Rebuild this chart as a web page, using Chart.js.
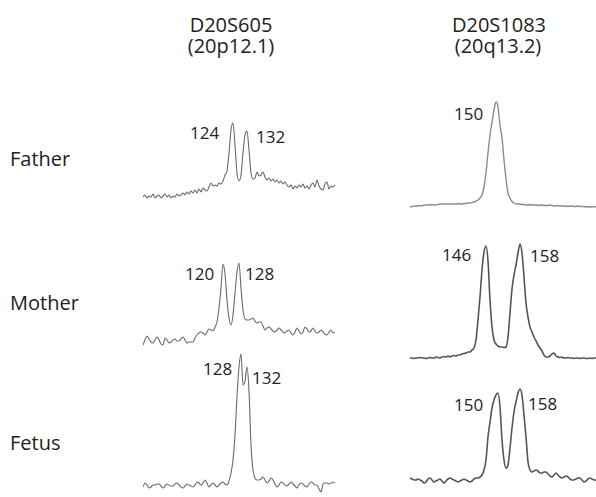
<!DOCTYPE html>
<html>
<head>
<meta charset="utf-8">
<script src="https://cdn.jsdelivr.net/npm/chart.js@4"></script>
<style>
  body { margin: 0; background: #fff; width: 596px; height: 497px; position: relative; overflow: hidden; font-family: "Open Sans", sans-serif; color: #222; }
  canvas { position: absolute; }
  .txt { position: absolute; white-space: nowrap; line-height: 1; }
  .title { font-size: 20px; text-align: center; width: 140px; }
  .row { font-size: 20px; }
  .peak { font-size: 17px; }
</style>
</head>
<body>
<div class="txt title" style="left:161px; top:15px;">D20S605</div>
<div class="txt title" style="left:161px; top:36px;">(20p12.1)</div>
<div class="txt title" style="left:429px; top:15px;">D20S1083</div>
<div class="txt title" style="left:428px; top:36px;">(20q13.2)</div>

<div class="txt row" style="left:10px; top:149px;">Father</div>
<div class="txt row" style="left:10px; top:293px;">Mother</div>
<div class="txt row" style="left:10px; top:433px;">Fetus</div>

<div class="txt peak" style="left:190px; top:124px;">124</div>
<div class="txt peak" style="left:256px; top:128px;">132</div>
<div class="txt peak" style="left:454px; top:105px;">150</div>
<div class="txt peak" style="left:185px; top:265px;">120</div>
<div class="txt peak" style="left:245px; top:265px;">128</div>
<div class="txt peak" style="left:442px; top:246px;">146</div>
<div class="txt peak" style="left:530px; top:247px;">158</div>
<div class="txt peak" style="left:203px; top:360px;">128</div>
<div class="txt peak" style="left:252px; top:369px;">132</div>
<div class="txt peak" style="left:454px; top:396px;">150</div>
<div class="txt peak" style="left:528px; top:395px;">158</div>

<canvas id="father-a" width="192" height="90" style="left:143px; top:115px;"></canvas>
<canvas id="father-b" width="186" height="120" style="left:410px; top:95px;"></canvas>
<canvas id="mother-a" width="192" height="95" style="left:143px; top:255px;"></canvas>
<canvas id="mother-b" width="186" height="130" style="left:410px; top:235px;"></canvas>
<canvas id="fetus-a" width="192" height="145" style="left:143px; top:350px;"></canvas>
<canvas id="fetus-b" width="186" height="110" style="left:410px; top:380px;"></canvas>

<script>
// signal heights (D20S605 on the left, D20S1083 on the right)
const fatherA = [8, 10, 7, 9, 8, 11, 7, 9, 10, 7, 9, 11, 8, 10, 7, 9, 8, 11, 9, 10,
    12, 10, 13, 11, 14, 12, 15, 12, 16, 13, 17, 15, 14, 18, 22, 19, 20, 19, 22, 21,
    24, 30, 34, 52, 75, 82, 60, 32, 24, 30, 52, 70, 74, 55, 32, 26, 27, 33, 29, 30,
    33, 28, 25, 27, 24, 26, 23, 25, 22, 24, 21, 23, 20, 18, 20, 16, 19, 17, 20, 18,
    21, 17, 19, 16, 20, 22, 18, 25, 19, 16, 15, 21, 23, 16, 19, 18, 20];

const fatherB = [8, 8.5, 9, 9, 9, 9.5, 9, 10, 10, 10, 10, 10.5, 10, 10, 10.5, 11, 11, 11, 11, 11,
    11, 11, 11, 11, 11.5, 11, 11, 11.5, 11.5, 12, 12, 12.5, 13, 14, 15, 17, 20, 28, 42, 62,
    80, 93, 105, 113, 108, 90, 77, 55, 36, 22, 17, 13.5, 12, 11, 11, 11, 10.5, 10.5, 10, 10,
    10.5, 10, 10, 10, 9.5, 10, 10, 9.5, 9.5, 9.5, 10, 9.5, 9, 9, 9.5, 9, 9, 9, 9, 8.5,
    9, 9, 8.5, 8.5, 9, 8.5, 8.5, 8.5, 8, 8.5, 8, 8, 8.5, 8];

const motherA = [5, 10, 14, 11, 8, 7, 10, 13, 10, 6, 5, 12, 10, 7, 8, 10, 11, 9, 9, 11,
    13, 10, 7, 8, 8, 8, 12, 15, 17, 18, 17, 15, 18, 21, 20, 19, 23, 28, 42, 62,
    86, 76, 50, 32, 25, 35, 57, 78, 87, 62, 40, 31, 30, 30, 31, 32, 29, 27, 28, 28,
    24, 20, 22, 23, 21, 19, 18, 20, 22, 20, 18, 17, 19, 20, 17, 15, 18, 22, 19, 16,
    18, 23, 21, 18, 19, 22, 19, 17, 18, 20, 18, 16, 15, 18, 20, 17, 18];

const motherB = [7, 7, 6.5, 7, 7, 7.5, 7, 7, 6.5, 7, 7.5, 7, 7, 8, 7.5, 7, 8, 8.5, 8, 9,
    8, 9, 9.5, 9, 10, 10, 11, 11.5, 12, 13, 13, 15, 17, 25, 45, 68, 95, 113, 119, 104,
    65, 38, 25, 21, 19, 18, 18, 17.5, 18, 28, 52, 76, 90, 100, 112, 121, 112, 88, 62, 48,
    38, 33, 28, 24, 20, 17, 14, 10, 8, 8, 9, 11, 12, 9, 8, 7.5, 8, 7, 7, 7.5,
    7, 7, 6.5, 7, 7, 6.5, 7, 7, 6.5, 6.5, 7, 6.5, 7, 7];

const fetusA = [8, 12, 10, 7, 8, 10, 10, 11, 11, 9, 7, 9, 11, 10, 9, 9, 11, 12, 10, 8,
    7, 9, 11, 10, 9, 8, 10, 13, 12, 10, 12, 15, 12, 8, 10, 12, 10, 8, 10, 12,
    13, 11, 10, 14, 22, 35, 60, 98, 128, 141, 110, 114, 128, 104, 50, 25, 17, 15, 15, 16,
    18, 15, 12, 14, 17, 15, 11, 8, 10, 13, 12, 10, 9, 11, 13, 11, 9, 7, 10, 12,
    11, 9, 8, 11, 13, 12, 10, 10, 6, 3, 11, 12, 12, 11, 12, 13, 12];

const fetusB = [12, 11, 10, 10, 11, 10, 9, 7, 8, 11, 12, 10, 8, 9, 10, 11, 9, 7, 9, 11,
    12, 11, 10, 9, 8, 9, 10, 11, 10, 9, 8, 9, 11, 12, 12, 13, 15, 20, 30, 53,
    68, 82, 90, 95, 97, 83, 50, 30, 22, 25, 42, 62, 78, 88, 97, 101, 95, 75, 53, 28,
    20, 18, 19, 20, 19, 17, 17, 18, 18, 16, 14, 13, 15, 17, 15, 13, 12, 13, 14, 13,
    11, 10, 10, 11, 12, 12, 10, 8, 9, 11, 12, 11, 10, 10];

const makeTrace = function (id, values, yMax, color, width) {
    const labels = values.map((v, i) => i);
    return new Chart(document.getElementById(id), {
        type: 'line',
        data: {
            labels: labels,
            datasets: [{
                data: values,
                borderColor: color,
                borderWidth: width,
                pointRadius: 0,
                cubicInterpolationMode: 'monotone',
                fill: false
            }]
        },
        options: {
            responsive: false,
            animation: false,
            events: [],
            layout: { padding: 0 },
            scales: {
                x: { display: false },
                y: { display: false, min: 0, max: yMax }
            },
            plugins: {
                legend: { display: false },
                tooltip: { enabled: false }
            }
        }
    });
};

makeTrace('father-a', fatherA, 90, '#6a6a6a', 1.1);
makeTrace('father-b', fatherB, 120, '#8c8c8c', 1.4);
makeTrace('mother-a', motherA, 95, '#6a6a6a', 1.1);
makeTrace('mother-b', motherB, 130, '#555555', 1.6);
makeTrace('fetus-a', fetusA, 145, '#6a6a6a', 1.1);
makeTrace('fetus-b', fetusB, 110, '#555555', 1.6);
</script>
</body>
</html>
